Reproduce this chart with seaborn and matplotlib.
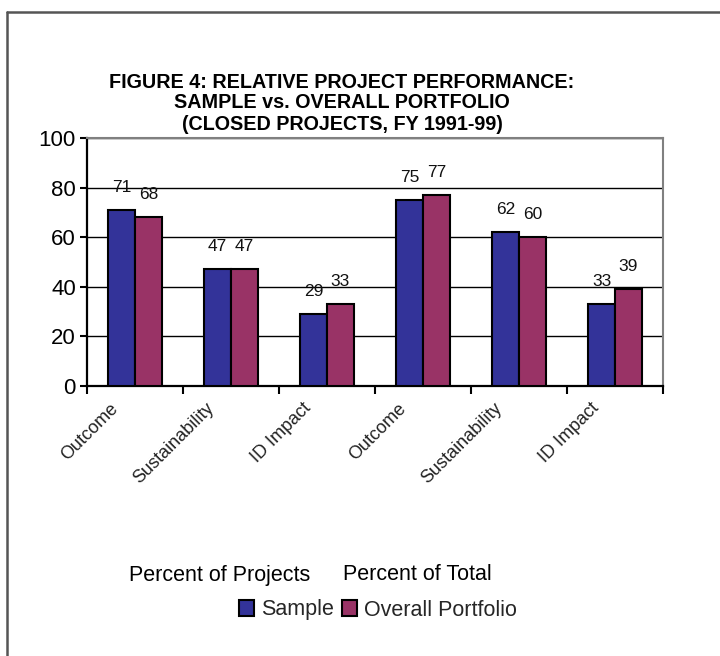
import matplotlib
matplotlib.use("Agg")
import matplotlib.pyplot as plt
import matplotlib.patches as mpatches
from matplotlib.ticker import FixedLocator
import seaborn as sns
import pandas as pd

# --- chart data -------------------------------------------------------------
title_lines = [
    "FIGURE 4: RELATIVE PROJECT PERFORMANCE:",
    "SAMPLE vs. OVERALL PORTFOLIO",
    "(CLOSED PROJECTS, FY 1991-99)",
]
group_labels = ["Percent of Projects", "Percent of Total"]
measures = ["Outcome", "Sustainability", "ID Impact",
            "Outcome", "Sustainability", "ID Impact"]
series_names = ["Sample", "Overall Portfolio"]
sample_values = [71, 47, 29, 75, 62, 33]
portfolio_values = [68, 47, 33, 77, 60, 39]
y_ticks = [0, 20, 40, 60, 80, 100]

# --- styling ------------------------------------------------------------------
sns.set_style("white")
plt.rcParams["font.family"] = ["Liberation Sans", "DejaVu Sans"]
colors = ["#333399", "#993366"]

slots = list(range(len(measures)))
df = pd.DataFrame({
    "slot": slots * 2,
    "value": sample_values + portfolio_values,
    "series": [series_names[0]] * len(slots) + [series_names[1]] * len(slots),
})

fig = plt.figure(figsize=(7.2, 6.56), dpi=100)
W, H = 720, 656
ax = fig.add_axes([87 / W, 1 - 386 / H, 576 / W, 248 / H])

sns.barplot(data=df, x="slot", y="value", hue="series", order=slots,
            hue_order=series_names, palette=colors, width=0.56,
            edgecolor="black", linewidth=1.5, saturation=1, legend=False,
            ax=ax, zorder=3)

# value labels above each bar
for cont, vals in zip(ax.containers, [sample_values, portfolio_values]):
    ax.bar_label(cont, labels=[str(v) for v in vals], padding=11,
                 fontsize=12.5, color="#111111")

ax.set_xlim(-0.5, len(slots) - 0.5)
ax.set_ylim(0, 100)
ax.set_yticks(y_ticks)
ax.set_yticklabels([str(t) for t in y_ticks], fontsize=16)
ax.set_xlabel("")
ax.set_ylabel("")

# horizontal gridlines
ax.yaxis.grid(True, color="black", linewidth=1)
ax.set_axisbelow(True)

for side in ["left", "bottom"]:
    ax.spines[side].set_color("black")
    ax.spines[side].set_linewidth(1.6)
for side in ["top", "right"]:
    ax.spines[side].set_visible(True)
    ax.spines[side].set_color("#808080")
    ax.spines[side].set_linewidth(1.5)

ax.tick_params(axis="y", direction="out", length=5, width=1.5, pad=3,
               left=True, colors="black")

# category labels (no marks) and boundary tick marks
ax.set_xticks(slots)
ax.set_xticklabels(measures, rotation=45, ha="right", fontsize=13,
                   color="#222222")
ax.tick_params(axis="x", which="major", length=0, pad=10)
ax.xaxis.set_minor_locator(FixedLocator([s - 0.5 for s in slots] + [len(slots) - 0.5]))
ax.tick_params(axis="x", which="minor", direction="out", length=6, width=1.5,
               bottom=True, color="black")
offset = matplotlib.transforms.ScaledTranslation(-13 / 100, 0, fig.dpi_scale_trans)
for lbl in ax.get_xticklabels():
    lbl.set_transform(lbl.get_transform() + offset)

# title
for i, line in enumerate(title_lines):
    fig.text(342 / W, 1 - (82 + 21 * i) / H, line, ha="center", va="center",
             fontsize=14.2, fontweight="bold", color="black")

# group captions
fig.text(220 / W, 1 - 575 / H, group_labels[0], ha="center", va="center",
         fontsize=15.5, color="black")
fig.text(417 / W, 1 - 575 / H, group_labels[1], ha="center", va="center",
         fontsize=15.5, color="black")

# legend
handles = [mpatches.Patch(facecolor=c, edgecolor="black", linewidth=1.5, label=n)
           for c, n in zip(colors, series_names)]
fig.legend(handles=handles, loc="center", bbox_to_anchor=(378 / W, 1 - 610 / H),
           ncol=2, frameon=False, fontsize=15.5, handlelength=0.7,
           handleheight=0.7, handletextpad=0.3, columnspacing=0.4,
           borderpad=0)

# outer frame (top and left edges)
fig.add_artist(plt.Line2D([7 / W, 1], [1 - 12 / H, 1 - 12 / H],
                          transform=fig.transFigure, color="#555555", lw=1.8))
fig.add_artist(plt.Line2D([7 / W, 7 / W], [0, 1 - 12 / H],
                          transform=fig.transFigure, color="#555555", lw=1.8))

fig.savefig("out.png", dpi=100)
